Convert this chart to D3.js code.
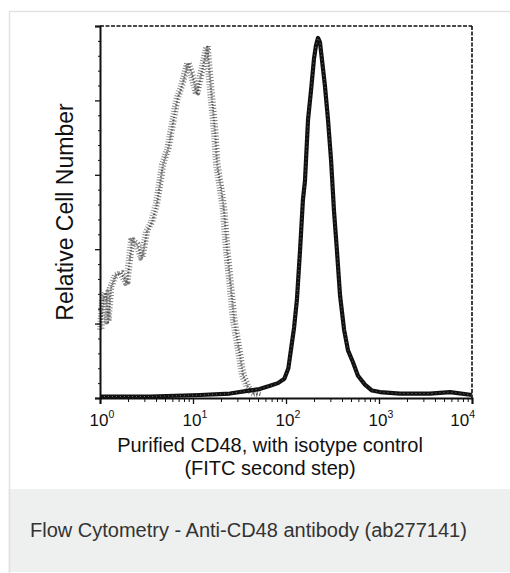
<!DOCTYPE html>
<html><head><meta charset="utf-8">
<script src="https://cdn.jsdelivr.net/npm/d3@7"></script>
<style>
body{margin:0;padding:0;background:#fff;}
svg{display:block;}
</style></head>
<body>
<svg id="chart" width="510" height="573"></svg>
<script>
// Isotype control (grey, dotted band): fluorescence, relative count
const isoX = [1.025,1.077,1.16,1.22,1.31,1.49,1.68,1.95,2.21,2.50,2.83,3.20,3.62,4.10,4.76,5.38,5.94,6.73,7.62,8.84,9.76,11.0,12.5,14.2,15.6,17.3,18.1,20.0,21.5,23.2,25.6,27.6,30.5,34.5,39.0,44.2,52.5];
const isoY = [46,66,71,51,74,83,84,77,106,103,94,112,118,131,157,167,181,200,210,225,217,204,220,236,207,177,157,140,126,99,73,52,36,15,7,3,2];
// Purified CD48 (black)
const cdX = [1.0,3.45,11.9,25,40,52,66,82,96,106,114,122,131,141.5,152,160,172.5,186,200,210,221,232,244,262,283,305,328,353,381,421,464,525,594,706,841,1025,1682,3532,5800,10000];
const cdY = [1,1,2,3,5,6,8,10,13,20,34,47,66,99,133,146,187,207,228,237,242,239,227,210,187,160,126,99,69,46,32,24,15,9,5,4,3,3,4,2];
const xTickVals = [1,10,100,1000,10000];
const xTickExp = ["0","1","2","3","4"];
const yMajor = [0,50,100,150,200,250];

const svg = d3.select("#chart");
const font = "'Liberation Sans', Arial, Helvetica, sans-serif";

// card
svg.append("rect").attr("x",9.5).attr("y",11.5).attr("width",520).attr("height",600)
  .attr("fill","#fff").attr("stroke","#e2e2e2").attr("stroke-width",1.5);
svg.append("rect").attr("x",10).attr("y",489).attr("width",510).attr("height",83).attr("fill","#eeefef");
svg.append("line").attr("x1",9.5).attr("x2",9.5).attr("y1",489).attr("y2",572).attr("stroke","#e2e2e2").attr("stroke-width",1.5);
svg.append("text").attr("x",30).attr("y",537).attr("font-family",font).attr("font-size",20)
  .attr("fill","#333").text("Flow Cytometry - Anti-CD48 antibody (ab277141)");

const L=100,R=472,T=26,B=398;
const x = d3.scaleLog().domain([1,10000]).range([L,R]);
const y = d3.scaleLinear().domain([0,250]).range([B,T]);

// frame top/right dashed
svg.append("line").attr("x1",L).attr("x2",R).attr("y1",T).attr("y2",T)
  .attr("stroke","#111").attr("stroke-width",1.6).attr("stroke-dasharray","4 1.5");
svg.append("line").attr("x1",R).attr("x2",R).attr("y1",T).attr("y2",B)
  .attr("stroke","#111").attr("stroke-width",1.6).attr("stroke-dasharray","4 1.5");

// curves
const line = d3.line().x(d=>x(d[0])).y(d=>y(d[1])).curve(d3.curveLinear);
const iso = isoX.map((v,i)=>[v,isoY[i]]);
const cd = cdX.map((v,i)=>[v,cdY[i]]);
const isoG = svg.append("g");
[[-1.5,0,"#888",5,"0.9 1.7"],[1.5,-1,"#777",4,"1 2.1"],[0,0,"#444",2.2,"0.8 2.4"]].forEach(p=>{
  isoG.append("path").attr("d",line(iso)).attr("transform",`translate(${p[0]},${p[1]})`)
    .attr("fill","none").attr("stroke",p[2]).attr("stroke-width",p[3])
    .attr("stroke-dasharray",p[4]).attr("stroke-linejoin","round");
});
svg.append("path").attr("d",line(cd)).attr("fill","none").attr("stroke","#111")
  .attr("stroke-width",4.2).attr("stroke-linejoin","round");
svg.append("path").attr("d",line(cd)).attr("fill","none").attr("stroke","#666")
  .attr("stroke-width",1).attr("stroke-dasharray","1 3");

// axes
const minorX = [];
for(let e=0;e<4;e++) for(let k=2;k<=9;k++) minorX.push(k*Math.pow(10,e));
const xAxis = d3.axisBottom(x).tickValues(xTickVals).tickSize(6).tickFormat("");
const gx = svg.append("g").attr("transform",`translate(0,${B})`).call(xAxis);
gx.select(".domain").attr("stroke","#111").attr("stroke-width",2);
gx.selectAll(".tick line").attr("stroke","#111").attr("stroke-width",1.3);
const gxm = svg.append("g").attr("transform",`translate(0,${B})`)
  .call(d3.axisBottom(x).tickValues(minorX).tickSize(4).tickFormat(""));
gxm.select(".domain").remove();
gxm.selectAll(".tick line").attr("stroke","#111").attr("stroke-width",1);

const gy = svg.append("g").attr("transform",`translate(${L},0)`)
  .call(d3.axisLeft(y).tickValues(yMajor).tickSize(5).tickFormat(""));
gy.select(".domain").attr("stroke","#111").attr("stroke-width",2);
gy.selectAll(".tick line").attr("stroke","#111").attr("stroke-width",1.3);
const minorY = d3.range(0,251,10).filter(v=>v%50!==0);
const gym = svg.append("g").attr("transform",`translate(${L},0)`)
  .call(d3.axisLeft(y).tickValues(minorY).tickSize(2).tickFormat(""));
gym.select(".domain").remove();
gym.selectAll(".tick line").attr("stroke","#111").attr("stroke-width",1);

// x tick labels with superscript
xTickVals.forEach((v,i)=>{
  const last = i===xTickVals.length-1;
  const t = svg.append("text").attr("x",last ? x(v)+3 : x(v)+2).attr("y",426)
    .attr("text-anchor",last ? "end" : "middle")
    .attr("font-family",font).attr("font-size",17).attr("fill","#111");
  t.append("tspan").text("10");
  t.append("tspan").attr("dy",-8).attr("font-size",10.5).text(xTickExp[i]);
});

// titles
svg.append("text").attr("x",270).attr("y",452).attr("text-anchor","middle")
  .attr("font-family",font).attr("font-size",20).attr("fill","#111")
  .text("Purified CD48, with isotype control");
svg.append("text").attr("x",270).attr("y",475).attr("text-anchor","middle")
  .attr("font-family",font).attr("font-size",20).attr("fill","#111")
  .text("(FITC second step)");
svg.append("text").attr("transform","translate(73,212) rotate(-90)").attr("text-anchor","middle")
  .attr("font-family",font).attr("font-size",23).attr("fill","#111")
  .text("Relative Cell Number");
</script>
</body></html>
